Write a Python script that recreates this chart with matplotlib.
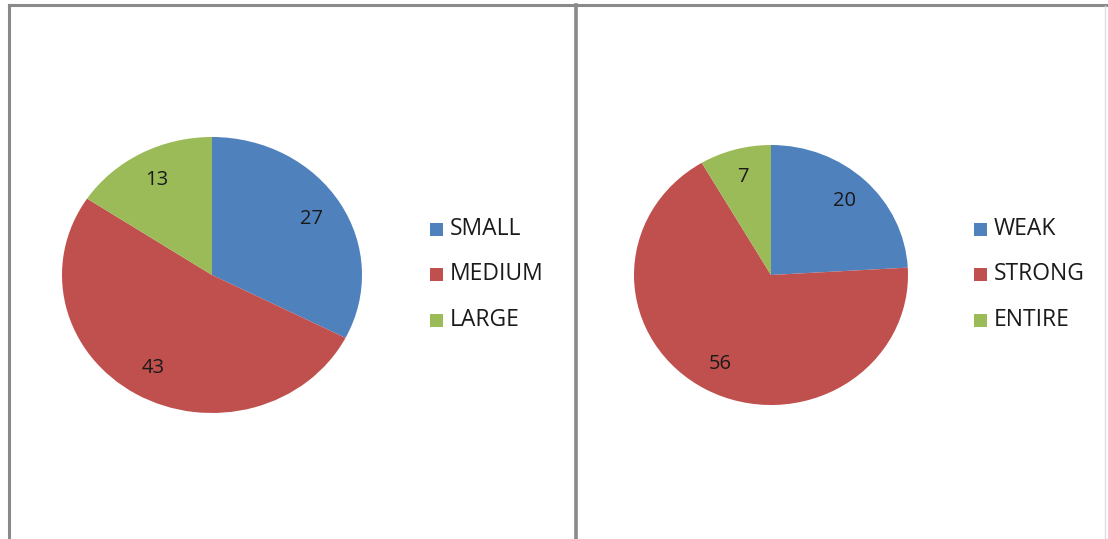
import matplotlib
matplotlib.use("Agg")
import matplotlib.pyplot as plt
from matplotlib.lines import Line2D

W, H = 1108, 539

plt.rcParams['font.family'] = ['Open Sans', 'DejaVu Sans']

# data
size_labels = ["SMALL", "MEDIUM", "LARGE"]
size_values = [27, 43, 13]
force_labels = ["WEAK", "STRONG", "ENTIRE"]
force_values = [20, 56, 7]

colors = ["#4F81BD", "#C0504D", "#9BBB59"]

fig = plt.figure(figsize=(W / 100, H / 100), dpi=100)
fig.patch.set_facecolor("white")


def px_axes(cx, cy, rx, ry):
    # axes box around a pie, given in image pixels (y from top)
    return fig.add_axes([(cx - rx) / W, (H - cy - ry) / H, 2 * rx / W, 2 * ry / H])


def draw_pie(ax, values):
    ax.pie(values, colors=colors, startangle=90, counterclock=False,
           autopct=lambda p: f"{p * sum(values) / 100:.0f}", pctdistance=0.78,
           wedgeprops=dict(linewidth=0),
           textprops=dict(fontsize=14.5, color="#1a1a1a"))
    ax.set_aspect("auto")
    ax.set_xlim(-1, 1)
    ax.set_ylim(-1, 1)
    ax.axis("off")


def draw_legend(labels, x_box, y_rows):
    for lab, col, y in zip(labels, colors, y_rows):
        fig.add_artist(plt.Rectangle((x_box / W, (H - y - 6.5) / H), 13 / W, 13 / H,
                                     facecolor=col, edgecolor="none",
                                     transform=fig.transFigure))
        fig.text((x_box + 20) / W, (H - y) / H, lab, fontsize=16.5,
                 color="#1a1a1a", va="center", ha="left")


ax1 = px_axes(212, 275, 150, 138)
draw_pie(ax1, size_values)
draw_legend(size_labels, 430, [229, 274, 320])

ax2 = px_axes(771, 275, 137, 130)
draw_pie(ax2, force_values)
draw_legend(force_labels, 974, [229, 274, 320])

# panel borders
border = "#8a8a8a"


def px_line(x0, y0, x1, y1, lw=2.2, c=border):
    fig.add_artist(Line2D([x0 / W, x1 / W], [(H - y0) / H, (H - y1) / H],
                          color=c, linewidth=lw, transform=fig.transFigure))


px_line(9, 5, 576, 5)
px_line(9, 5, 9, H)
px_line(576, 5, 576, H, lw=2.6)
px_line(576, 5, W, 5)
px_line(1105, 6, 1105, H, lw=1.0, c="#dcdcdc")

fig.savefig("out.png", dpi=100)
